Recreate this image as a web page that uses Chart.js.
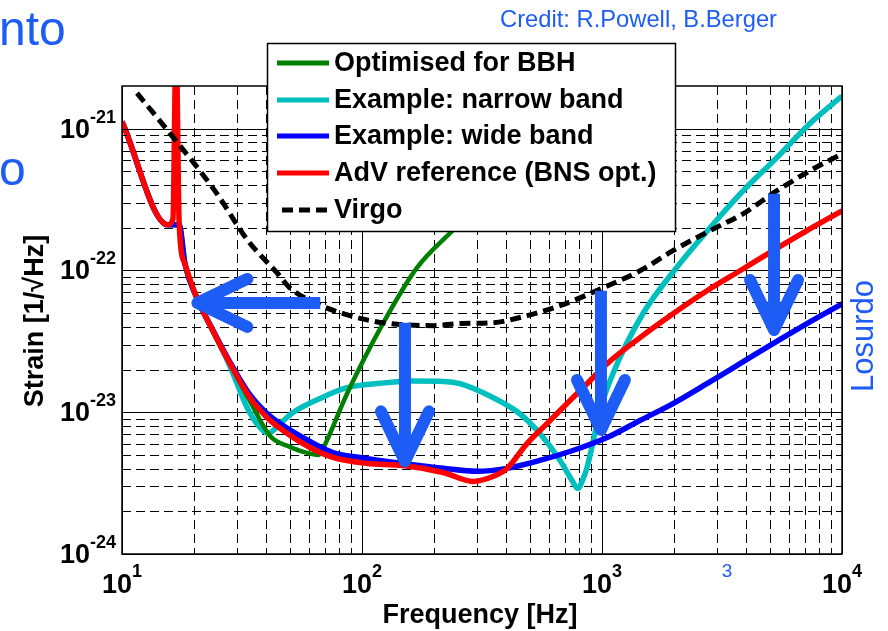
<!DOCTYPE html>
<html>
<head>
<meta charset="utf-8">
<script src="https://cdn.jsdelivr.net/npm/chart.js@4.4.0/dist/chart.umd.min.js"></script>
<style>
  html, body { margin: 0; padding: 0; background: #fff; }
  #wrap { position: relative; width: 888px; height: 631px; }
</style>
</head>
<body>
<div id="wrap"><canvas id="c" width="888" height="631"></canvas></div>
<script>
// ---- data (frequency in Hz, strain in 1/sqrt(Hz)) ----
const seriesLabels = ['Optimised for BBH', 'Example: narrow band', 'Example: wide band', 'AdV reference (BNS opt.)', 'Virgo'];

const bbhFreq   = [10, 15.5, 17.3, 18.3, 20.5, 23.9, 28.2, 34.1, 41.4, 50, 60.7, 66, 69, 86.6, 122, 169, 245];
const bbhStrain = [1.12e-21, 2.1e-22, 2.1e-22, 1.11e-22, 6.41e-23, 3.76e-23, 2.2e-23, 1.2e-23, 6.8e-24, 5.7e-24, 5.1e-24, 5.0e-24, 5.6e-24, 1.35e-23, 4.2e-23, 1.04e-22, 2.0e-22];

const narrowFreq   = [10, 15.5, 17.3, 18.3, 20.5, 23.9, 28.2, 33.2, 36.5, 40.6, 45.5, 51.8, 66.8, 86.6, 119, 163, 220, 256, 351, 453, 550, 667, 750, 792, 835, 867, 918, 981, 1110, 1480, 2040, 2820, 3870, 5340, 7320, 10000];
const narrowStrain = [1.12e-21, 2.1e-22, 2.1e-22, 1.11e-22, 6.41e-23, 3.76e-23, 2.1e-23, 1.08e-23, 8.3e-24, 7.1e-24, 8.3e-24, 1.0e-23, 1.25e-23, 1.49e-23, 1.6e-23, 1.66e-23, 1.65e-23, 1.59e-23, 1.27e-23, 9.8e-24, 7.1e-24, 4.6e-24, 3.3e-24, 2.9e-24, 3.4e-24, 4.1e-24, 6.2e-24, 1.03e-23, 1.87e-23, 4.95e-23, 1.04e-22, 2.0e-22, 3.64e-22, 6.22e-22, 1.08e-21, 1.7e-21];

const wideFreq   = [10, 15.5, 17.3, 18.3, 20.5, 23.9, 28.2, 34.1, 40.2, 46.9, 60.7, 75.7, 98, 148, 218, 302, 402, 550, 756, 1050, 1440, 1976, 2738, 3758, 5158, 7145, 10000];
const wideStrain = [1.12e-21, 2.1e-22, 2.1e-22, 1.11e-22, 6.41e-23, 3.8e-23, 2.25e-23, 1.33e-23, 9.8e-24, 8.05e-24, 6.22e-24, 5.2e-24, 4.8e-24, 4.35e-24, 4.02e-24, 3.83e-24, 4.02e-24, 4.57e-24, 5.37e-24, 6.63e-24, 8.74e-24, 1.15e-23, 1.59e-23, 2.2e-23, 3.05e-23, 4.22e-23, 5.82e-23];

const advFreq   = [10, 15.5, 16.3, 16.8, 17.3, 18.3, 20.5, 23.9, 28.2, 34.1, 40.2, 46.9, 60.7, 75.7, 105, 148, 218, 290, 351, 402, 487, 590, 714, 866, 1050, 1440, 1976, 2738, 3758, 5158, 7145, 10000];
const advStrain = [1.12e-21, 2.1e-22, 2.3e-22, 4e-21, 2.2e-22, 1.11e-22, 6.41e-23, 3.76e-23, 2.2e-23, 1.27e-23, 9.19e-24, 7.43e-24, 5.64e-24, 4.8e-24, 4.35e-24, 4.21e-24, 3.76e-24, 3.25e-24, 3.52e-24, 4.01e-24, 6.01e-24, 8.31e-24, 1.15e-23, 1.59e-23, 2.2e-23, 3.36e-23, 4.95e-23, 7.19e-23, 9.95e-23, 1.38e-22, 1.91e-22, 2.63e-22];

const virgoFreq   = [11.55, 15.55, 24.4, 33.5, 44.6, 50, 64.9, 89.1, 122, 198, 256, 351, 488, 667, 1012, 1440, 1976, 2820, 3870, 5340, 7320, 10000];
const virgoStrain = [1.78e-21, 9.64e-22, 3.64e-22, 1.62e-22, 9.48e-23, 7.55e-23, 5.82e-23, 4.8e-23, 4.28e-23, 4.08e-23, 4.22e-23, 4.28e-23, 4.8e-23, 5.64e-23, 7.55e-23, 9.95e-23, 1.38e-22, 1.91e-22, 2.51e-22, 3.64e-22, 5.03e-22, 6.64e-22];

// axes
const xDecades = [10, 100, 1000, 10000];
const xTickExp = ['1', '2', '3', '4'];
const yDecades = [1e-24, 1e-23, 1e-22, 1e-21];
const yTickExp = ['-24', '-23', '-22', '-21'];
const gridMultipliers = [1, 2, 3, 4, 5, 6, 7, 8, 9];

// blue annotation arrows, in data coordinates [freq, strain]
const arrows = [
  { from: [67, 5.9e-23],   to: [20.6, 5.9e-23] },
  { from: [151, 4.28e-23], to: [151, 4.5e-24] },
  { from: [990, 7.2e-23],  to: [990, 7.5e-24] },
  { from: [5210, 3.47e-22], to: [5210, 3.8e-23] }
];

const FONT = '"Liberation Sans", Arial, Helvetica, sans-serif';
const SLIDE_BLUE = '#1d5cf5';
const seriesColors = ['#008000', '#00bfbf', '#0000ff', '#ff0000', '#000000'];
const GRID_DASH = [9, 5];

const toPoints = (fs, hs) => fs.map((f, i) => ({ x: f, y: hs[i] }));

function hline(ctx, x1, x2, y) { ctx.beginPath(); ctx.moveTo(x1, y); ctx.lineTo(x2, y); ctx.stroke(); }
function vline(ctx, x, y1, y2) { ctx.beginPath(); ctx.moveTo(x, y1); ctx.lineTo(x, y2); ctx.stroke(); }

// Matlab style grid: solid at decades, dashed in between
const matlabGrid = {
  id: 'matlabGrid',
  beforeDatasetsDraw(chart) {
    const { ctx, chartArea: a, scales: { x, y } } = chart;
    ctx.save();
    ctx.strokeStyle = '#000';
    ctx.lineWidth = 1;
    xDecades.forEach(d => gridMultipliers.forEach(m => {
      const v = d * m;
      if (v < x.min || v > x.max * 1.0001) return;
      const px = Math.round(x.getPixelForValue(v)) + 0.5;
      ctx.setLineDash(m === 1 ? [] : GRID_DASH);
      vline(ctx, px, a.top, a.bottom);
    }));
    yDecades.forEach(d => gridMultipliers.forEach(m => {
      const v = d * m;
      if (v < y.min || v > y.max * 0.999) return;
      const py = Math.round(y.getPixelForValue(v)) + 0.5;
      ctx.setLineDash(m === 1 ? [] : GRID_DASH);
      hline(ctx, a.left, a.right, py);
    }));
    ctx.restore();
  },
  afterDatasetsDraw(chart) {
    const { ctx, chartArea: a, scales: { x, y } } = chart;
    ctx.save();
    ctx.strokeStyle = '#000';
    ctx.lineWidth = 1;
    ctx.setLineDash([]);
    // inward ticks
    xDecades.forEach(d => gridMultipliers.forEach(m => {
      const v = d * m;
      if (v < x.min || v > x.max * 1.0001) return;
      const px = Math.round(x.getPixelForValue(v)) + 0.5;
      const len = m === 1 ? 9 : 5;
      vline(ctx, px, a.bottom, a.bottom - len);
      vline(ctx, px, a.top, a.top + len);
    }));
    yDecades.forEach(d => gridMultipliers.forEach(m => {
      const v = d * m;
      if (v < y.min || v > y.max * 0.999) return;
      const py = Math.round(y.getPixelForValue(v)) + 0.5;
      const len = m === 1 ? 9 : 5;
      hline(ctx, a.left, a.left + len, py);
      hline(ctx, a.right, a.right - len, py);
    }));
    ctx.lineWidth = 1.5;
    ctx.strokeRect(a.left, a.top, a.right - a.left, a.bottom - a.top);
    ctx.restore();
  },
  afterDraw(chart) {
    const { ctx, chartArea: a, scales: { x, y } } = chart;
    ctx.save();
    ctx.fillStyle = '#000';
    ctx.textBaseline = 'alphabetic';

    const drawPower = (exp, cx, baseY, expY, align) => {
      ctx.font = 'bold 27px ' + FONT;
      const wb = ctx.measureText('10').width;
      ctx.font = 'bold 18px ' + FONT;
      const we = ctx.measureText(exp).width;
      const left = align === 'center' ? cx - (wb + we) / 2 : cx - wb - we;
      ctx.textAlign = 'left';
      ctx.font = 'bold 27px ' + FONT;
      ctx.fillText('10', left, baseY);
      ctx.font = 'bold 18px ' + FONT;
      ctx.fillText(exp, left + wb, expY);
    };
    xDecades.forEach((d, i) => {
      const px = x.getPixelForValue(d);
      drawPower(xTickExp[i], px, 593, 577, 'center');
    });
    yDecades.forEach((d, i) => {
      const py = y.getPixelForValue(d);
      drawPower(yTickExp[i], a.left - 6, py + 9, py - 6, 'right');
    });

    // axis titles
    ctx.font = 'bold 27px ' + FONT;
    ctx.textAlign = 'center';
    ctx.fillText('Frequency [Hz]', (a.left + a.right) / 2 - 2, 623);
    ctx.save();
    ctx.translate(43, (a.top + a.bottom) / 2 + 1);
    ctx.rotate(-Math.PI / 2);
    ctx.fillText('Strain [1/\u221AHz]', 0, 0);
    ctx.restore();

    // legend box
    const lx = 267, ly = 43, lw = 408, lh = 188;
    ctx.fillStyle = '#fff';
    ctx.fillRect(lx, ly, lw, lh);
    ctx.strokeStyle = '#000';
    ctx.lineWidth = 1.5;
    ctx.strokeRect(lx + 0.5, ly + 0.5, lw, lh);
    const rowY = [63, 100, 136, 173, 210];
    seriesLabels.forEach((lab, i) => {
      ctx.strokeStyle = seriesColors[i];
      ctx.lineWidth = 5;
      ctx.lineCap = 'butt';
      ctx.setLineDash(i === 4 ? [11, 6] : []);
      hline(ctx, i === 4 ? 282 : 277, 329, rowY[i]);
      ctx.setLineDash([]);
      ctx.fillStyle = '#000';
      ctx.font = 'bold 27px ' + FONT;
      ctx.textAlign = 'left';
      ctx.textBaseline = 'middle';
      ctx.fillText(lab, 334, rowY[i] + 1);
    });

    // blue arrows
    ctx.strokeStyle = SLIDE_BLUE;
    ctx.lineWidth = 12;
    arrows.forEach(ar => {
      const x1 = x.getPixelForValue(ar.from[0]), y1 = y.getPixelForValue(ar.from[1]);
      const x2 = x.getPixelForValue(ar.to[0]), y2 = y.getPixelForValue(ar.to[1]);
      const ang = Math.atan2(y2 - y1, x2 - x1);
      const ux = Math.cos(ang), uy = Math.sin(ang);
      ctx.lineCap = 'butt';
      ctx.beginPath();
      ctx.moveTo(x1, y1);
      ctx.lineTo(x2 - ux * 4, y2 - uy * 4);
      ctx.stroke();
      const back = 50, side = 24;
      ctx.lineCap = 'round';
      ctx.lineJoin = 'round';
      ctx.beginPath();
      ctx.moveTo(x2 - ux * back - uy * side, y2 - uy * back + ux * side);
      ctx.lineTo(x2, y2);
      ctx.lineTo(x2 - ux * back + uy * side, y2 - uy * back - ux * side);
      ctx.stroke();
    });

    // slide texts around the figure
    ctx.fillStyle = SLIDE_BLUE;
    ctx.textBaseline = 'alphabetic';
    ctx.textAlign = 'left';
    ctx.font = '48px ' + FONT;
    ctx.fillText('nto', -1, 45);
    ctx.fillText('o', -1, 185);
    ctx.font = '24px ' + FONT;
    ctx.fillText('Credit: R.Powell, B.Berger', 500, 27, 277);
    ctx.font = '19px ' + FONT;
    ctx.textAlign = 'center';
    ctx.fillText('3', 727, 577);
    ctx.save();
    ctx.translate(873, 336);
    ctx.rotate(-Math.PI / 2);
    ctx.font = '31px ' + FONT;
    ctx.fillText('Losurdo', 0, 0);
    ctx.restore();

    ctx.restore();
  }
};

const lineStyle = { borderWidth: 5.5, pointRadius: 0, cubicInterpolationMode: 'monotone', tension: 0.4, clip: 0, fill: false };

new Chart(document.getElementById('c'), {
  type: 'line',
  data: {
    datasets: [
      { label: seriesLabels[4], data: toPoints(virgoFreq, virgoStrain), borderColor: seriesColors[4], borderDash: [11, 6], order: 1, ...lineStyle, borderWidth: 5 },
      { label: seriesLabels[3], data: toPoints(advFreq, advStrain), borderColor: seriesColors[3], order: 2, ...lineStyle },
      { label: seriesLabels[2], data: toPoints(wideFreq, wideStrain), borderColor: seriesColors[2], order: 3, ...lineStyle },
      { label: seriesLabels[0], data: toPoints(bbhFreq, bbhStrain), borderColor: seriesColors[0], order: 4, ...lineStyle, borderWidth: 4.5 },
      { label: seriesLabels[1], data: toPoints(narrowFreq, narrowStrain), borderColor: seriesColors[1], order: 5, ...lineStyle }
    ]
  },
  options: {
    responsive: false,
    animation: false,
    devicePixelRatio: 1,
    layout: { padding: { left: 122, right: 46, top: 86, bottom: 77 } },
    scales: {
      x: { type: 'logarithmic', min: 10, max: 10000, display: false },
      y: { type: 'logarithmic', min: 1e-24, max: 2e-21, display: false }
    },
    plugins: { legend: { display: false }, tooltip: { enabled: false } }
  },
  plugins: [matlabGrid]
});
</script>
</body>
</html>
